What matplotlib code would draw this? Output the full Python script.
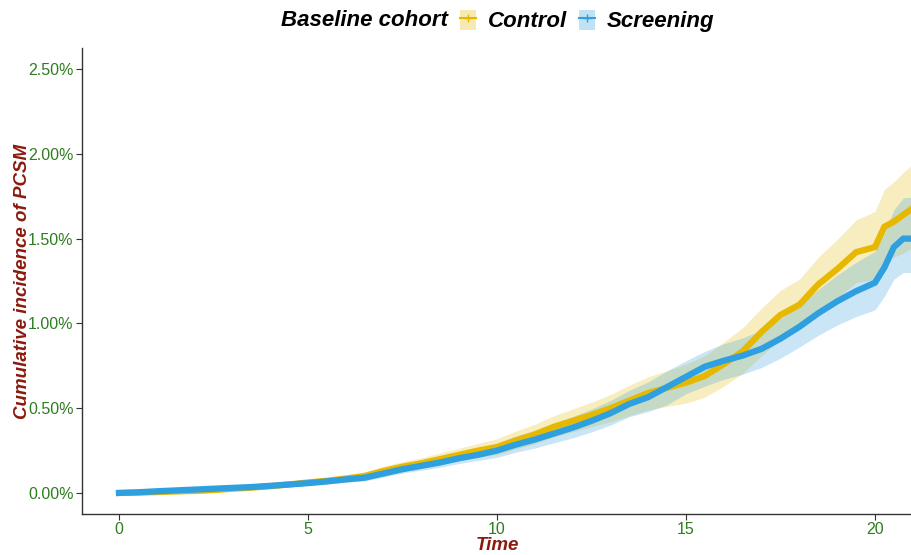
import matplotlib
matplotlib.use("Agg")
import matplotlib.pyplot as plt
from matplotlib.patches import Patch
from matplotlib.lines import Line2D
from matplotlib.ticker import FuncFormatter

# follow-up time grid (years)
time = [0, 0.5, 1, 1.5, 2, 2.5, 3, 3.5, 4, 4.5, 5, 5.5, 6, 6.5, 7, 7.5, 8, 8.5, 9, 9.5,
        10, 10.5, 11, 11.5, 12, 12.5, 13, 13.5, 14, 14.5, 15, 15.5, 16, 16.5, 17, 17.5,
        18, 18.5, 19, 19.5, 20, 20.25, 20.5, 20.75, 21]

# cumulative incidence (%) - Control, with 95% CI
control = [0, .002, .005, .009, .012, .017, .025, .031, .040, .050, .062, .072, .085, .100,
           .130, .155, .175, .200, .225, .250,
           .270, .310, .345, .390, .425, .460, .500, .545, .590, .620, .650, .690, .760, .835,
           .950, 1.050, 1.110, 1.230, 1.320, 1.420, 1.450, 1.570, 1.600, 1.640, 1.680]
control_hi = [0, .005, .010, .016, .020, .026, .035, .043, .054, .066, .080, .092, .107, .125,
              .158, .185, .208, .236, .264, .292,
              .320, .365, .405, .455, .495, .535, .580, .635, .685, .720, .760, .810, .890, .975,
              1.090, 1.195, 1.260, 1.390, 1.495, 1.610, 1.660, 1.790, 1.835, 1.890, 1.940]
control_lo = [0, 0, 0, .003, .005, .009, .016, .020, .027, .036, .046, .054, .065, .078,
              .105, .128, .145, .168, .190, .212,
              .225, .260, .290, .330, .360, .390, .420, .455, .490, .510, .530, .565, .630, .705,
              .810, .905, .960, 1.070, 1.150, 1.240, 1.260, 1.370, 1.390, 1.415, 1.445]

# cumulative incidence (%) - Screening, with 95% CI
screening = [0, .004, .010, .015, .020, .025, .030, .035, .042, .050, .058, .068, .080, .090,
             .115, .140, .160, .180, .205, .225,
             .250, .285, .315, .350, .385, .425, .470, .525, .565, .625, .685, .745, .780, .810,
             .850, .910, .980, 1.060, 1.130, 1.190, 1.240, 1.330, 1.450, 1.500, 1.500]
screening_hi = [0, .007, .015, .021, .027, .033, .039, .045, .054, .064, .074, .086, .100, .112,
                .140, .167, .190, .213, .241, .264,
                .295, .335, .370, .410, .450, .495, .545, .605, .655, .720, .780, .835, .880, .915,
                .960, 1.030, 1.110, 1.200, 1.285, 1.360, 1.425, 1.530, 1.670, 1.740, 1.745]
screening_lo = [0, .001, .006, .010, .014, .018, .022, .026, .032, .038, .044, .053, .063, .071,
                .094, .117, .134, .152, .174, .192,
                .210, .240, .265, .295, .325, .360, .400, .450, .480, .520, .585, .630, .670, .700,
                .740, .795, .860, .930, .990, 1.040, 1.080, 1.160, 1.260, 1.300, 1.300]

groups = ["Control", "Screening"]
yticks = [0, 0.5, 1.0, 1.5, 2.0, 2.5]
xticks = [0, 5, 10, 15, 20]

c_ctrl = "#E7B800"
c_scr = "#2E9FDF"
green = "#2E7D1F"
red = "#8B1A0E"

plt.rcParams["font.family"] = ["Liberation Sans", "DejaVu Sans"]

fig = plt.figure(figsize=(9.12, 5.55), dpi=100)
ax = fig.add_axes([0.0899, 0.0739, 0.9101, 0.8396])

ax.fill_between(time, control_lo, control_hi, color=c_ctrl, alpha=0.25, lw=0)
ax.fill_between(time, screening_lo, screening_hi, color=c_scr, alpha=0.25, lw=0)
ax.plot(time, control, color=c_ctrl, lw=4.5, solid_joinstyle="miter")
ax.plot(time, screening, color=c_scr, lw=4.5, solid_joinstyle="miter")

ax.set_xlim(-0.98, 20.98)
ax.set_ylim(-0.124, 2.624)
ax.set_xticks(xticks)
ax.set_yticks(yticks)
ax.yaxis.set_major_formatter(FuncFormatter(lambda v, p: "%.2f%%" % v))
ax.tick_params(axis="both", colors="#333333", labelcolor=green, labelsize=11.5,
               length=4, width=0.8, pad=2)

for s in ["top", "right"]:
    ax.spines[s].set_visible(False)
for s in ["left", "bottom"]:
    ax.spines[s].set_color("#333333")
    ax.spines[s].set_linewidth(1.0)

ax.set_xlabel("Time", color=red, fontsize=13.5, fontweight="bold", fontstyle="italic", labelpad=0)
ax.set_ylabel("Cumulative incidence of PCSM", color=red, fontsize=13.5,
              fontweight="bold", fontstyle="italic", labelpad=-2)

# legend on top, horizontal
fig.text(448 / 912, 1 - 21 / 555, "Baseline cohort", ha="right", va="center",
         fontsize=16, fontweight="bold", fontstyle="italic")
handles = []
for c in [c_ctrl, c_scr]:
    handles.append((Patch(facecolor=c, alpha=0.3, lw=0),
                    Line2D([], [], color=c, lw=1.5, marker="+", markersize=6)))
fig.legend(handles, groups, ncol=2, frameon=False, loc="center left",
           bbox_to_anchor=(440 / 912, 1 - 21 / 555),
           prop={"size": 16, "weight": "bold", "style": "italic"},
           handlelength=0.7, handleheight=1.0, handletextpad=0.55, columnspacing=0.55)

fig.savefig("out.png", dpi=100)
